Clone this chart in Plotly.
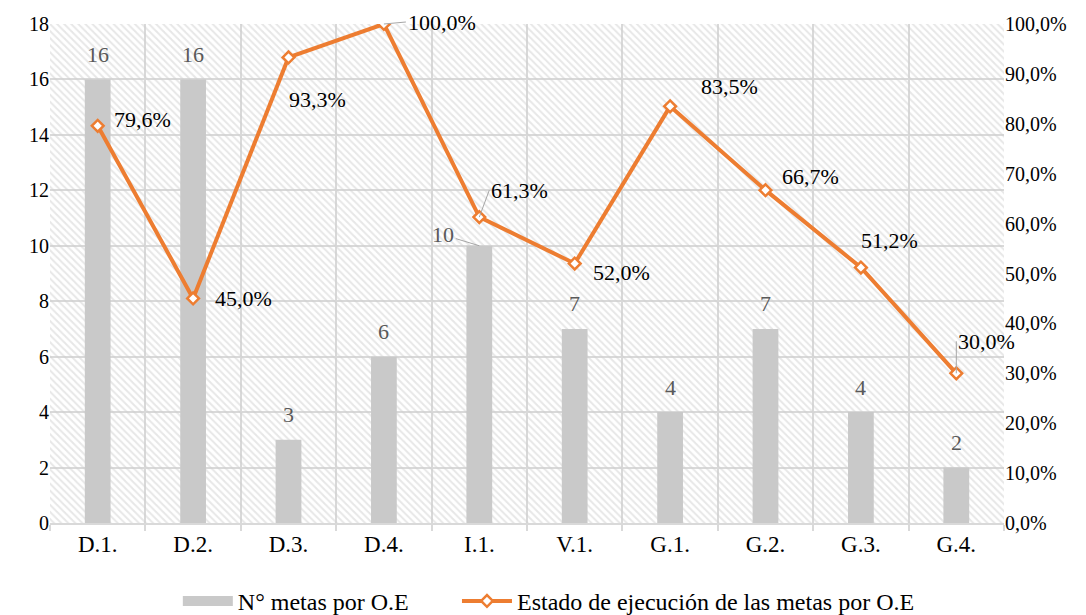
import plotly.graph_objects as go

categories = ["D.1.", "D.2.", "D.3.", "D.4.", "I.1.", "V.1.", "G.1.", "G.2.", "G.3.", "G.4."]
metas = [16, 16, 3, 6, 10, 7, 4, 7, 4, 2]
ejecucion = [0.796, 0.450, 0.933, 1.000, 0.613, 0.520, 0.835, 0.667, 0.512, 0.300]
pct_labels = ["79,6%", "45,0%", "93,3%", "100,0%", "61,3%", "52,0%", "83,5%", "66,7%", "51,2%", "30,0%"]
bar_name = "N° metas por O.E"
line_name = "Estado de ejecución de las metas por O.E"

FONT = "Times New Roman, Liberation Serif, DejaVu Serif, serif"
ORANGE = "#ED7D31"
GRAY = "#C9C9C9"
GRID = "#D9D9D9"

fig = go.Figure()

# hatched plot background
fig.add_trace(go.Bar(
    x=categories, y=[18] * len(categories), width=1,
    marker=dict(color="rgba(0,0,0,0)", line=dict(width=0),
                pattern=dict(shape="\\", fgcolor="#CFCFCF", bgcolor="rgba(0,0,0,0)",
                             size=5, solidity=0.4)),
    hoverinfo="skip", showlegend=False,
))

fig.add_trace(go.Bar(
    x=categories, y=metas, width=0.27, name=bar_name, showlegend=False,
    marker=dict(color=GRAY, line=dict(width=0)),
))

# legend proxy for the bars (wide grey swatch)
fig.add_trace(go.Scatter(
    x=[None], y=[None], mode="lines", name=bar_name, legend="legend",
    line=dict(color=GRAY, width=12),
))

fig.add_trace(go.Scatter(
    x=categories, y=ejecucion, name=line_name, yaxis="y2", legend="legend2",
    mode="lines+markers",
    line=dict(color=ORANGE, width=4),
    marker=dict(symbol="diamond", size=9, color="white", line=dict(color=ORANGE, width=2.5)),
))

LBL = 22
annotations = []
for c, v in zip(categories, metas):
    if c == "I.1.":
        annotations.append(dict(x=c, y=v, xref="x", yref="y", text=str(v), showarrow=True,
                                arrowhead=0, arrowwidth=1, arrowcolor="#A6A6A6",
                                ax=-36, ay=-11, font=dict(family=FONT, size=LBL, color="#595959")))
    else:
        annotations.append(dict(x=c, y=v, xref="x", yref="y", text=str(v), showarrow=False,
                                yshift=25, font=dict(family=FONT, size=LBL, color="#595959")))

offsets = {
    "D.1.": (14, 6, False),
    "D.2.": (20, 0, False),
    "D.3.": (-2, -42, False),
    "D.4.": (22, 2, True),
    "I.1.": (10, 27, True),
    "V.1.": (16, -9, False),
    "G.1.": (29, 20, False),
    "G.2.": (14, 14, False),
    "G.3.": (-2, 27, False),
    "G.4.": (0, 32, True),
}
for c, v, t in zip(categories, ejecucion, pct_labels):
    dx, dy, leader = offsets[c]
    if leader:
        annotations.append(dict(x=c, y=v, xref="x", yref="y2", text=t, showarrow=True,
                                arrowhead=0, arrowwidth=1, arrowcolor="#A6A6A6",
                                ax=dx, ay=-dy, xanchor="left", yanchor="middle",
                                font=dict(family=FONT, size=LBL, color="black")))
    else:
        annotations.append(dict(x=c, y=v, xref="x", yref="y2", text=t, showarrow=False,
                                xanchor="left", xshift=dx, yshift=dy,
                                font=dict(family=FONT, size=LBL, color="black")))

legend_common = dict(orientation="h", y=-0.112, yanchor="top", xanchor="left",
                     font=dict(family=FONT, size=24), itemwidth=50, bgcolor="rgba(0,0,0,0)")

fig.update_layout(
    width=1086, height=615,
    margin=dict(l=50, r=82, t=24, b=92, autoexpand=False),
    paper_bgcolor="white", plot_bgcolor="white",
    barmode="overlay",
    separators=",.",
    font=dict(family=FONT, size=20, color="black"),
    xaxis=dict(type="category", tickson="boundaries", showgrid=True, gridcolor=GRID, gridwidth=1.5,
               showline=True, linecolor=GRID, linewidth=1.5, ticks="outside", ticklen=6,
               tickcolor=GRID, tickwidth=1.5, tickfont=dict(family=FONT, size=23),
               range=[-0.5, 9.5], automargin=False),
    yaxis=dict(range=[0, 18], dtick=2, showgrid=True, gridcolor=GRID, gridwidth=1.5,
               zeroline=False, showline=False, tickfont=dict(family=FONT, size=20), ticks="",
               automargin=False),
    yaxis2=dict(range=[0, 1], dtick=0.1, tickformat=".1%", overlaying="y", side="right",
                showgrid=False, zeroline=False, showline=False,
                tickfont=dict(family=FONT, size=20), automargin=False),
    legend=dict(x=0.134, **legend_common),
    legend2=dict(x=0.4266, **legend_common),
    annotations=annotations,
    hovermode=False,
)

fig.write_html("out.html", config={"displayModeBar": False},
               post_script="document.body.style.margin='0';document.body.style.overflow='hidden';")
